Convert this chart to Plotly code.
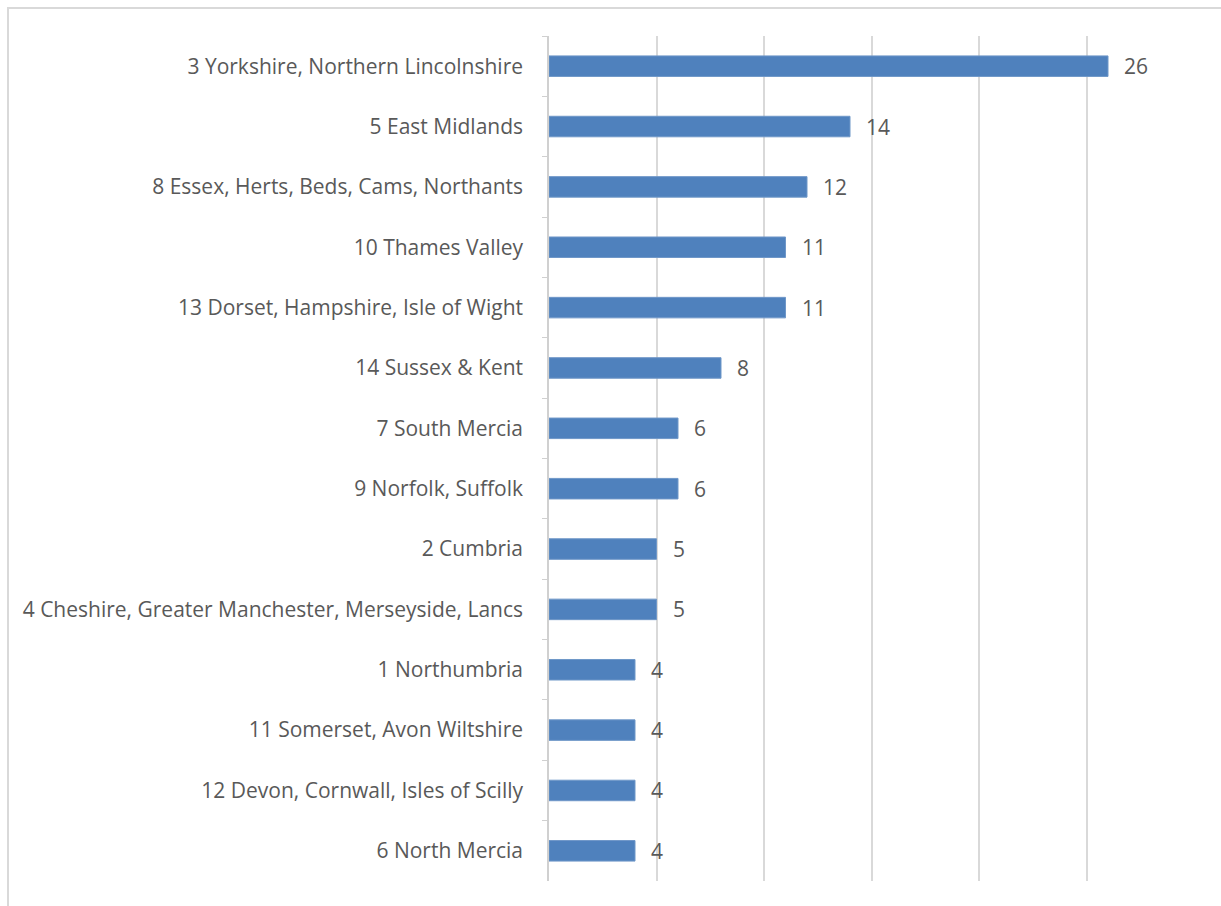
import plotly.graph_objects as go

# Regions, listed top to bottom
regions = [
    "3 Yorkshire, Northern Lincolnshire",
    "5 East Midlands",
    "8 Essex, Herts, Beds, Cams, Northants",
    "10 Thames Valley",
    "13 Dorset, Hampshire, Isle of Wight",
    "14 Sussex & Kent",
    "7 South Mercia",
    "9 Norfolk, Suffolk",
    "2 Cumbria",
    "4 Cheshire, Greater Manchester, Merseyside, Lancs",
    "1 Northumbria",
    "11 Somerset, Avon Wiltshire",
    "12 Devon, Cornwall, Isles of Scilly",
    "6 North Mercia",
]
counts = [26, 14, 12, 11, 11, 8, 6, 6, 5, 5, 4, 4, 4, 4]

W, H = 1221, 906
ML, MR, MT, MB = 549, 27, 36, 25
TEXT = "#595959"
FONT = "Open Sans"
FSIZE = 21

fig = go.Figure(
    go.Bar(
        x=counts,
        y=regions,
        orientation="h",
        marker=dict(color="#4f81bd", line=dict(color="#6f97c8", width=1)),
        width=0.34,
        hoverinfo="skip",
    )
)

# Value labels just past each bar end
for r, c in zip(regions, counts):
    fig.add_annotation(
        x=c, y=r, text=str(c), showarrow=False,
        xanchor="left", yanchor="middle", xshift=14,
        font=dict(family=FONT, size=FSIZE, color=TEXT),
    )

# Thin frame around the chart area
pw = W - ML - MR
ph = H - MT - MB
fig.add_shape(
    type="rect", xref="paper", yref="paper",
    x0=(8 - ML) / pw, x1=(W + 20 - ML) / pw,
    y0=-(H + 20 - MT - ph) / ph, y1=1 + (MT - 8) / ph,
    line=dict(color="#d9d9d9", width=2), fillcolor="rgba(0,0,0,0)",
    layer="below",
)

fig.update_layout(
    width=W, height=H,
    margin=dict(l=ML, r=MR, t=MT, b=MB),
    paper_bgcolor="white", plot_bgcolor="white",
    showlegend=False,
    font=dict(family=FONT, size=FSIZE, color=TEXT),
    xaxis=dict(
        range=[0, 30], dtick=5, showticklabels=False,
        showgrid=True, gridcolor="#d9d9d9", gridwidth=1.5,
        zeroline=False, showline=False, fixedrange=True,
    ),
    yaxis=dict(
        autorange="reversed", type="category",
        showline=True, linecolor="#d0d0d0", linewidth=1.5,
        ticks="outside", tickson="boundaries", ticklen=5, tickcolor="#d0d0d0",
        ticklabelstandoff=20,
        tickfont=dict(family=FONT, size=FSIZE, color=TEXT),
        showgrid=False, fixedrange=True,
    ),
)

fig.write_html("out.html")
